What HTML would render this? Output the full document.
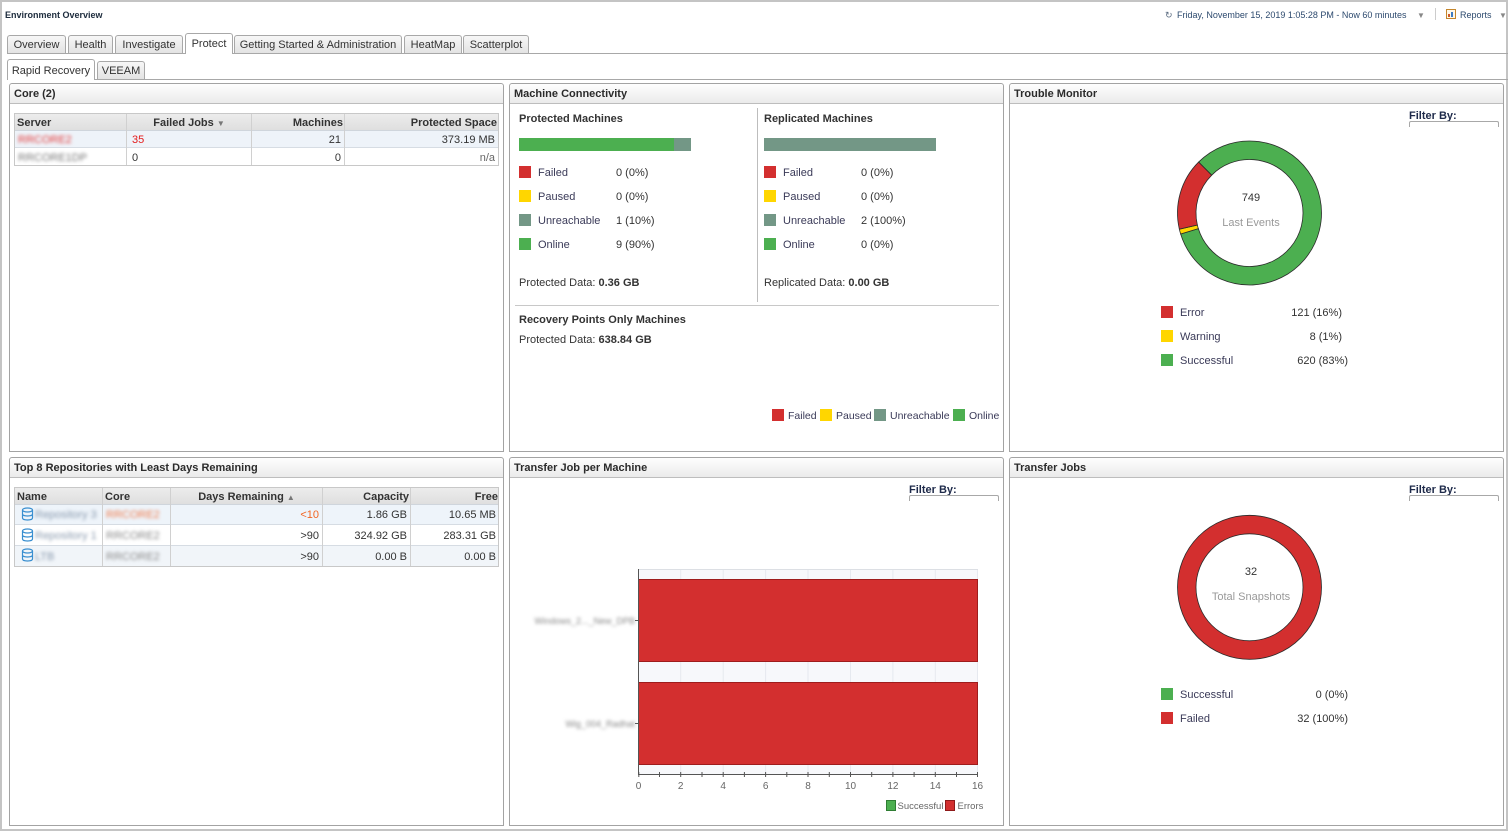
<!DOCTYPE html>
<html><head><meta charset="utf-8"><style>
*{box-sizing:border-box;margin:0;padding:0}
html,body{width:1508px;height:831px;overflow:hidden;background:#fff}
body{position:relative;font-family:"Liberation Sans",Arial,sans-serif}
.frame{position:absolute;left:0;top:0;width:1508px;height:831px;border:2px solid #c4c4c4;border-right-width:2px}
.t{position:absolute;white-space:nowrap;font-size:11px;line-height:14px;color:#333;margin-top:1px}
.b{font-weight:bold}
.lbl{color:#3a3a58}
.tab{position:absolute;border:1px solid #a8a8a8;border-bottom:none;border-radius:3px 3px 0 0;background:linear-gradient(#f7f7f7,#e3e3e3);font-size:11px;color:#333;text-align:center;white-space:nowrap}
.tab.on{background:#fff;z-index:3}
.panel{position:absolute;width:495px;height:369px;border:1px solid #a3a3a3;border-radius:3px 3px 0 0;background:#fff}
.ph{height:20px;border-bottom:1px solid #bdbdbd;background:linear-gradient(#fefefe,#ebebeb);font-weight:bold;font-size:11px;line-height:21px;padding-left:4px;color:#2b2b2b;border-radius:3px 3px 0 0}
.sq{position:absolute;width:12px;height:12px}
.R{background:#d32f2f}.Y{background:#ffd600}.G{background:#4caf50}.U{background:#739786}
.hl{position:absolute;height:1px}
.vl{position:absolute;width:1px}
.blur{filter:blur(1.7px)}
.fb{position:absolute;font-weight:bold;font-size:11px;color:#1e2a4a;white-space:nowrap;line-height:14px;margin-top:1px}
.fbox{position:absolute;width:90px;height:6px;border:1px solid #a8a8a8;border-bottom:none;border-radius:2px 2px 0 0}
</style></head><body>
<div class="frame"></div>

<!-- top header -->
<div class="t b" style="left:5px;top:8px;font-size:9px;line-height:12px;color:#1c2b3c">Environment Overview</div>
<div class="t" style="left:1165px;top:8px;font-size:9px;line-height:12px;color:#5a6b80">&#8635;</div>
<div class="t" style="left:1177px;top:8px;font-size:9px;line-height:12px;color:#2d4a6e">Friday, November 15, 2019 1:05:28 PM - Now 60 minutes</div>
<div class="t" style="left:1417px;top:9px;font-size:8px;line-height:12px;color:#888">&#9660;</div>
<div class="vl" style="left:1435px;top:8px;height:12px;background:#ccc"></div>
<div style="position:absolute;left:1446px;top:9px;width:10px;height:10px;border:1px solid #c4862c;background:#fff8e8"></div>
<div style="position:absolute;left:1448px;top:14px;width:2px;height:3px;background:#d05a2a"></div>
<div style="position:absolute;left:1451px;top:12px;width:2px;height:5px;background:#3d7cc4"></div>
<div class="t" style="left:1460px;top:8px;font-size:9px;line-height:12px;color:#2d4a6e">Reports</div>
<div class="t" style="left:1499px;top:9px;font-size:8px;line-height:12px;color:#888">&#9660;</div>

<!-- main tabs -->
<div class="hl" style="left:7px;top:53px;width:1501px;background:#a8a8a8"></div>
<div class="tab" style="left:7px;top:35px;width:59px;height:18px;line-height:19px">Overview</div>
<div class="tab" style="left:68px;top:35px;width:45px;height:18px;line-height:19px">Health</div>
<div class="tab" style="left:115px;top:35px;width:68px;height:18px;line-height:19px">Investigate</div>
<div class="tab on" style="left:185px;top:33px;width:48px;height:21px;line-height:21px">Protect</div>
<div class="tab" style="left:234px;top:35px;width:168px;height:18px;line-height:19px">Getting Started &amp; Administration</div>
<div class="tab" style="left:404px;top:35px;width:58px;height:18px;line-height:19px">HeatMap</div>
<div class="tab" style="left:463px;top:35px;width:66px;height:18px;line-height:19px">Scatterplot</div>

<!-- sub tabs -->
<div class="hl" style="left:7px;top:79px;width:1501px;background:#a8a8a8"></div>
<div class="tab on" style="left:7px;top:59px;width:88px;height:21px;line-height:22px">Rapid Recovery</div>
<div class="tab" style="left:97px;top:61px;width:48px;height:18px;line-height:19px">VEEAM</div>

<!-- panels -->
<div class="panel" style="left:9px;top:83px"><div class="ph">Core (2)</div></div>
<div class="panel" style="left:509px;top:83px"><div class="ph">Machine Connectivity</div></div>
<div class="panel" style="left:1009px;top:83px"><div class="ph">Trouble Monitor</div></div>
<div class="panel" style="left:9px;top:457px"><div class="ph">Top 8 Repositories with Least Days Remaining</div></div>
<div class="panel" style="left:509px;top:457px"><div class="ph">Transfer Job per Machine</div></div>
<div class="panel" style="left:1009px;top:457px"><div class="ph">Transfer Jobs</div></div>

<!-- Core table -->
<div style="position:absolute;left:14px;top:113px;width:485px;height:53px;border:1px solid #c8c8c8"></div>
<div style="position:absolute;left:15px;top:114px;width:483px;height:16px;background:linear-gradient(#ececec,#dfdfdf)"></div>
<div style="position:absolute;left:15px;top:130px;width:483px;height:17px;background:#eef3f9"></div>
<div class="hl" style="left:15px;top:130px;width:483px;background:#cfd5dc"></div>
<div class="hl" style="left:15px;top:147px;width:483px;background:#d6dce3"></div>
<div class="vl" style="left:126px;top:114px;height:51px;background:#d0d0d0"></div>
<div class="vl" style="left:251px;top:114px;height:51px;background:#d0d0d0"></div>
<div class="vl" style="left:344px;top:114px;height:51px;background:#d0d0d0"></div>
<div class="t b" style="left:17px;top:115px">Server</div>
<div class="t b" style="left:127px;top:115px;width:124px;text-align:center">Failed Jobs <span style="font-size:8px;color:#777">&#9660;</span></div>
<div class="t b" style="right:1165px;top:115px">Machines</div>
<div class="t b" style="right:1011px;top:115px">Protected Space</div>
<div class="t blur" style="left:18px;top:132px;color:#e23a3a">RRCORE2</div>
<div class="t" style="left:132px;top:132px;color:#e41c1c">35</div>
<div class="t" style="right:1167px;top:132px">21</div>
<div class="t" style="right:1013px;top:132px">373.19 MB</div>
<div class="t blur" style="left:18px;top:150px;color:#777">RRCORE1DP</div>
<div class="t" style="left:132px;top:150px">0</div>
<div class="t" style="right:1167px;top:150px">0</div>
<div class="t" style="right:1013px;top:150px;color:#666">n/a</div>

<!-- Machine connectivity -->
<div class="t b" style="left:519px;top:111px">Protected Machines</div>
<div style="position:absolute;left:519px;top:138px;width:155px;height:13px;background:#4caf50"></div>
<div style="position:absolute;left:674px;top:138px;width:17px;height:13px;background:#739786"></div>
<div class="sq R" style="left:519px;top:166px"></div><div class="t lbl" style="left:538px;top:165px">Failed</div><div class="t" style="left:616px;top:165px">0 (0%)</div>
<div class="sq Y" style="left:519px;top:190px"></div><div class="t lbl" style="left:538px;top:189px">Paused</div><div class="t" style="left:616px;top:189px">0 (0%)</div>
<div class="sq U" style="left:519px;top:214px"></div><div class="t lbl" style="left:538px;top:213px">Unreachable</div><div class="t" style="left:616px;top:213px">1 (10%)</div>
<div class="sq G" style="left:519px;top:238px"></div><div class="t lbl" style="left:538px;top:237px">Online</div><div class="t" style="left:616px;top:237px">9 (90%)</div>
<div class="t" style="left:519px;top:275px">Protected Data: <b>0.36 GB</b></div>
<div class="vl" style="left:757px;top:108px;height:194px;background:#bdbdbd"></div>
<div class="t b" style="left:764px;top:111px">Replicated Machines</div>
<div style="position:absolute;left:764px;top:138px;width:172px;height:13px;background:#739786"></div>
<div class="sq R" style="left:764px;top:166px"></div><div class="t lbl" style="left:783px;top:165px">Failed</div><div class="t" style="left:861px;top:165px">0 (0%)</div>
<div class="sq Y" style="left:764px;top:190px"></div><div class="t lbl" style="left:783px;top:189px">Paused</div><div class="t" style="left:861px;top:189px">0 (0%)</div>
<div class="sq U" style="left:764px;top:214px"></div><div class="t lbl" style="left:783px;top:213px">Unreachable</div><div class="t" style="left:861px;top:213px">2 (100%)</div>
<div class="sq G" style="left:764px;top:238px"></div><div class="t lbl" style="left:783px;top:237px">Online</div><div class="t" style="left:861px;top:237px">0 (0%)</div>
<div class="t" style="left:764px;top:275px">Replicated Data: <b>0.00 GB</b></div>
<div class="hl" style="left:515px;top:305px;width:484px;background:#c8c8c8"></div>
<div class="t b" style="left:519px;top:312px">Recovery Points Only Machines</div>
<div class="t" style="left:519px;top:332px">Protected Data: <b>638.84 GB</b></div>
<div class="sq R" style="left:772px;top:409px"></div><div class="t lbl" style="left:788px;top:408px;font-size:10.5px">Failed</div>
<div class="sq Y" style="left:820px;top:409px"></div><div class="t lbl" style="left:836px;top:408px;font-size:10.5px">Paused</div>
<div class="sq U" style="left:874px;top:409px"></div><div class="t lbl" style="left:890px;top:408px;font-size:10.5px">Unreachable</div>
<div class="sq G" style="left:953px;top:409px"></div><div class="t lbl" style="left:969px;top:408px;font-size:10.5px">Online</div>

<!-- Filter By boxes -->
<div class="fb" style="left:1409px;top:108px">Filter By:</div><div class="fbox" style="left:1409px;top:121px"></div>
<div class="fb" style="left:909px;top:482px">Filter By:</div><div class="fbox" style="left:909px;top:495px"></div>
<div class="fb" style="left:1409px;top:482px">Filter By:</div><div class="fbox" style="left:1409px;top:495px"></div>

<!-- Repos table -->
<div style="position:absolute;left:14px;top:487px;width:485px;height:80px;border:1px solid #c8c8c8"></div>
<div style="position:absolute;left:15px;top:488px;width:483px;height:16px;background:linear-gradient(#ececec,#dfdfdf)"></div>
<div style="position:absolute;left:15px;top:504px;width:483px;height:20px;background:#eef4fa"></div>
<div style="position:absolute;left:15px;top:546px;width:483px;height:20px;background:#f1f5f9"></div>
<div class="hl" style="left:15px;top:504px;width:483px;background:#cfd5dc"></div>
<div class="hl" style="left:15px;top:524px;width:483px;background:#d6dce3"></div>
<div class="hl" style="left:15px;top:545px;width:483px;background:#d6dce3"></div>
<div class="vl" style="left:102px;top:488px;height:78px;background:#d0d0d0"></div>
<div class="vl" style="left:170px;top:488px;height:78px;background:#d0d0d0"></div>
<div class="vl" style="left:322px;top:488px;height:78px;background:#d0d0d0"></div>
<div class="vl" style="left:410px;top:488px;height:78px;background:#d0d0d0"></div>
<div class="t b" style="left:17px;top:489px">Name</div>
<div class="t b" style="left:105px;top:489px">Core</div>
<div class="t b" style="left:171px;top:489px;width:151px;text-align:center">Days Remaining <span style="font-size:8px;color:#777">&#9650;</span></div>
<div class="t b" style="right:1099px;top:489px">Capacity</div>
<div class="t b" style="right:1010px;top:489px">Free</div>
<div class="t blur" style="left:35px;top:507px;color:#8a9aae">Repository 3</div>
<div class="t blur" style="left:106px;top:507px;color:#f07a4a">RRCORE2</div>
<div class="t" style="right:1189px;top:507px;color:#f26522">&lt;10</div>
<div class="t" style="right:1101px;top:507px">1.86 GB</div>
<div class="t" style="right:1012px;top:507px">10.65 MB</div>
<div class="t blur" style="left:35px;top:528px;color:#8a9aae">Repository 1</div>
<div class="t blur" style="left:106px;top:528px;color:#888">RRCORE2</div>
<div class="t" style="right:1189px;top:528px">&gt;90</div>
<div class="t" style="right:1101px;top:528px">324.92 GB</div>
<div class="t" style="right:1012px;top:528px">283.31 GB</div>
<div class="t blur" style="left:35px;top:549px;color:#8a9aae">LTB</div>
<div class="t blur" style="left:106px;top:549px;color:#888">RRCORE2</div>
<div class="t" style="right:1189px;top:549px">&gt;90</div>
<div class="t" style="right:1101px;top:549px">0.00 B</div>
<div class="t" style="right:1012px;top:549px">0.00 B</div>

<svg style="position:absolute;left:0;top:0" width="1508" height="831" viewBox="0 0 1508 831">
  <!-- db icons -->
  <g fill="none" stroke="#3a8fd0" stroke-width="1.2">
    <g transform="translate(22,508)"><ellipse cx="5.5" cy="2" rx="5" ry="2"/><path d="M0.5 2v8c0 1.2 2.2 2 5 2s5-0.8 5-2V2M0.5 6c0 1.2 2.2 2 5 2s5-0.8 5-2"/></g>
    <g transform="translate(22,529)"><ellipse cx="5.5" cy="2" rx="5" ry="2"/><path d="M0.5 2v8c0 1.2 2.2 2 5 2s5-0.8 5-2V2M0.5 6c0 1.2 2.2 2 5 2s5-0.8 5-2"/></g>
    <g transform="translate(22,549)"><ellipse cx="5.5" cy="2" rx="5" ry="2"/><path d="M0.5 2v8c0 1.2 2.2 2 5 2s5-0.8 5-2V2M0.5 6c0 1.2 2.2 2 5 2s5-0.8 5-2"/></g>
  </g>
  <!-- Trouble monitor donut -->
  <g stroke="#2a2a2a" stroke-width="0.8">
    <path fill="#4caf50" d="M1198.59,162.09 A72,72 0 1 1 1180.65,234.05 L1198.34,228.64 A53.5,53.5 0 1 0 1211.67,175.17 Z"/>
    <path fill="#ffd600" d="M1180.65,234.05 A72,72 0 0 1 1179.34,229.20 L1197.37,225.04 A53.5,53.5 0 0 0 1198.34,228.64 Z"/>
    <path fill="#d32f2f" d="M1179.34,229.20 A72,72 0 0 1 1198.59,162.09 L1211.67,175.17 A53.5,53.5 0 0 0 1197.37,225.04 Z"/>
  </g>
  <!-- Transfer jobs donut -->
  <circle cx="1249.5" cy="587.3" r="62.75" fill="none" stroke="#d32f2f" stroke-width="18.5"/>
  <circle cx="1249.5" cy="587.3" r="72" fill="none" stroke="#2a2a2a" stroke-width="0.8"/>
  <circle cx="1249.5" cy="587.3" r="53.5" fill="none" stroke="#2a2a2a" stroke-width="0.8"/>
  <!-- bar chart -->
  <rect x="638.5" y="569.5" width="339.5" height="204.5" fill="#f7f8fb"/>
  <line x1="638.5" y1="569.5" x2="978" y2="569.5" stroke="#dcdfe4"/>
  <g stroke="#e6e9ef" stroke-width="1">
    <line x1="680.7" y1="570" x2="680.7" y2="774"/><line x1="723.2" y1="570" x2="723.2" y2="774"/>
    <line x1="765.6" y1="570" x2="765.6" y2="774"/><line x1="808" y1="570" x2="808" y2="774"/>
    <line x1="850.5" y1="570" x2="850.5" y2="774"/><line x1="892.9" y1="570" x2="892.9" y2="774"/>
    <line x1="935.3" y1="570" x2="935.3" y2="774"/><line x1="977.5" y1="570" x2="977.5" y2="774"/>
  </g>
  <rect x="638.5" y="579.5" width="339" height="82" fill="#d32f2f" stroke="#9e1c1c" stroke-width="1"/>
  <rect x="638.5" y="682.5" width="339" height="82" fill="#d32f2f" stroke="#9e1c1c" stroke-width="1"/>
  <line x1="638.5" y1="569" x2="638.5" y2="774" stroke="#555"/>
  <line x1="638" y1="774.5" x2="978" y2="774.5" stroke="#555"/>
  <g stroke="#555">
    <line x1="635" y1="620.5" x2="638" y2="620.5"/><line x1="635" y1="723.5" x2="638" y2="723.5"/>
    <line x1="638.8" y1="772" x2="638.8" y2="777"/><line x1="659.5" y1="772" x2="659.5" y2="777"/>
    <line x1="680.7" y1="772" x2="680.7" y2="777"/><line x1="702" y1="772" x2="702" y2="777"/>
    <line x1="723.2" y1="772" x2="723.2" y2="777"/><line x1="744.4" y1="772" x2="744.4" y2="777"/>
    <line x1="765.6" y1="772" x2="765.6" y2="777"/><line x1="786.8" y1="772" x2="786.8" y2="777"/>
    <line x1="808" y1="772" x2="808" y2="777"/><line x1="829.3" y1="772" x2="829.3" y2="777"/>
    <line x1="850.5" y1="772" x2="850.5" y2="777"/><line x1="871.7" y1="772" x2="871.7" y2="777"/>
    <line x1="892.9" y1="772" x2="892.9" y2="777"/><line x1="914.1" y1="772" x2="914.1" y2="777"/>
    <line x1="935.3" y1="772" x2="935.3" y2="777"/><line x1="956.5" y1="772" x2="956.5" y2="777"/>
    <line x1="977.5" y1="772" x2="977.5" y2="777"/>
  </g>
  <g font-family="Liberation Sans, Arial, sans-serif" font-size="10" fill="#666" text-anchor="middle">
    <text x="638.5" y="789">0</text><text x="680.7" y="789">2</text><text x="723.2" y="789">4</text>
    <text x="765.6" y="789">6</text><text x="808" y="789">8</text><text x="850.5" y="789">10</text>
    <text x="892.9" y="789">12</text><text x="935.3" y="789">14</text><text x="977.5" y="789">16</text>
  </g>
  <rect x="886.5" y="800.5" width="9" height="10" fill="#4caf50" stroke="#2f7d33"/>
  <rect x="945.5" y="800.5" width="9" height="10" fill="#d32f2f" stroke="#8e1a1a"/>
  <g font-family="Liberation Sans, Arial, sans-serif" font-size="9.5" fill="#666">
    <text x="897.5" y="809">Successful</text><text x="957.5" y="809">Errors</text>
  </g>
</svg>

<!-- bar chart y labels (blurred) -->
<div class="t blur" style="right:873px;top:613px;font-size:9px;color:#888">Windows_2..._New_DPB</div>
<div class="t blur" style="right:873px;top:716px;font-size:9px;color:#888">Wig_004_Radhat</div>

<!-- Trouble monitor texts -->
<div class="t" style="left:1201px;top:190px;width:100px;text-align:center">749</div>
<div class="t" style="left:1201px;top:215px;width:100px;text-align:center;color:#999">Last Events</div>
<div class="sq R" style="left:1161px;top:306px"></div><div class="t lbl" style="left:1180px;top:305px">Error</div><div class="t" style="right:166px;top:305px">121 (16%)</div>
<div class="sq Y" style="left:1161px;top:330px"></div><div class="t lbl" style="left:1180px;top:329px">Warning</div><div class="t" style="right:166px;top:329px">8 (1%)</div>
<div class="sq G" style="left:1161px;top:354px"></div><div class="t lbl" style="left:1180px;top:353px">Successful</div><div class="t" style="right:160px;top:353px">620 (83%)</div>

<!-- Transfer jobs texts -->
<div class="t" style="left:1201px;top:564px;width:100px;text-align:center">32</div>
<div class="t" style="left:1191px;top:589px;width:120px;text-align:center;color:#999">Total Snapshots</div>
<div class="sq G" style="left:1161px;top:688px"></div><div class="t lbl" style="left:1180px;top:687px">Successful</div><div class="t" style="right:160px;top:687px">0 (0%)</div>
<div class="sq R" style="left:1161px;top:712px"></div><div class="t lbl" style="left:1180px;top:711px">Failed</div><div class="t" style="right:160px;top:711px">32 (100%)</div>

</body></html>
